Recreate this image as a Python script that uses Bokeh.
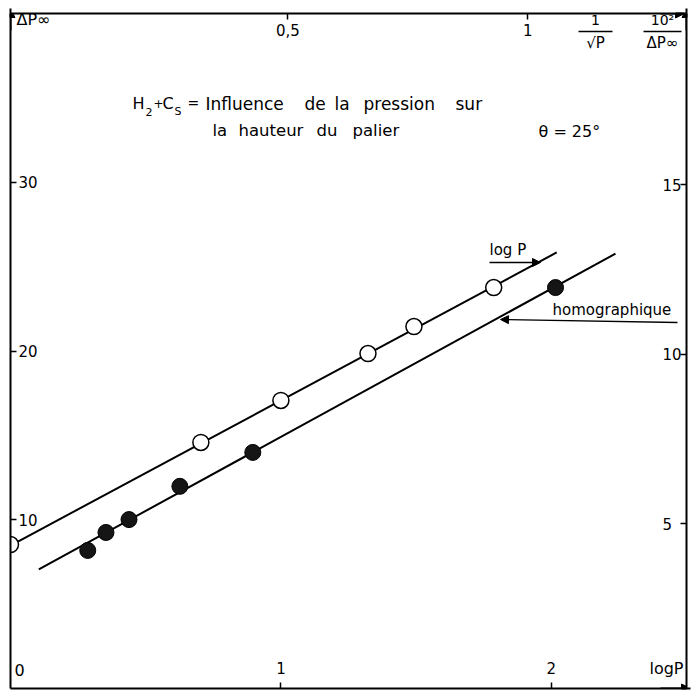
from bokeh.plotting import figure
from bokeh.models import LinearAxis, Range1d, FixedTicker, Label, Arrow, NormalHead
from bokeh.embed import file_html
from bokeh.resources import INLINE

# ---------------- data ----------------
# open circles : Delta P_inf versus log P
logp_open = [0.0, 0.704, 1.0, 1.322, 1.492, 1.787]
dp_open = [8.53, 14.58, 17.07, 19.85, 21.45, 23.76]
logp_line = [0.0, 2.02]
dp_line = [8.47, 25.84]

# filled circles : 10^2 / Delta P_inf versus 1 / sqrt(P)  (homographique)
invsqrtp_filled = [0.083, 0.121, 0.169, 0.275, 0.427, 1.058]
inv_dp_filled = [4.22, 4.75, 5.13, 6.11, 7.11, 11.97]
invsqrtp_line = [-0.019, 1.183]
inv_dp_line = [3.66, 12.97]

left_ticks = [10, 20, 30]
bottom_ticks = [1, 2]
top_ticks = [0.5, 1.0]
top_tick_labels = {0.5: "0,5", 1.0: "1"}
right_ticks = [5, 10, 15]

X_RANGE = (0.0, 2.5)
Y_RANGE = (0.0, 40.0)
TOP_RANGE = (-0.078, 1.331)
RIGHT_RANGE = (0.15, 20.05)

# ---------------- layout helpers (page pixels -> data) ----------------
FL, FR, FT, FB = 10, 686, 13, 688
FONT = "DejaVu Sans"


def dx(px):
    return X_RANGE[0] + (px - FL) / (FR - FL) * (X_RANGE[1] - X_RANGE[0])


def dy(py):
    return Y_RANGE[0] + (FB - py) / (FB - FT) * (Y_RANGE[1] - Y_RANGE[0])


p = figure(width=698, height=693,
           x_range=Range1d(*X_RANGE), y_range=Range1d(*Y_RANGE),
           x_axis_type=None, y_axis_type=None,
           output_backend="svg", toolbar_location=None,
           min_border_left=FL, min_border_right=698 - FR,
           min_border_top=FT, min_border_bottom=693 - FB,
           outline_line_color=None,
           background_fill_color="white", border_fill_color="white")
p.extra_x_ranges = {"top": Range1d(*TOP_RANGE)}
p.extra_y_ranges = {"right": Range1d(*RIGHT_RANGE)}


def style(ax, ticks, standoff):
    ax.ticker = FixedTicker(ticks=ticks)
    ax.major_tick_in = 6
    ax.major_tick_out = 0
    ax.minor_tick_in = 0
    ax.minor_tick_out = 0
    ax.axis_line_width = 2
    ax.axis_line_color = "black"
    ax.major_tick_line_width = 1.5
    ax.major_tick_line_color = "black"
    ax.major_label_text_font = FONT
    ax.major_label_text_font_size = "15px"
    ax.major_label_text_color = "black"
    ax.major_label_standoff = standoff


bottom = LinearAxis()
style(bottom, bottom_ticks, -27)
p.add_layout(bottom, "below")

left = LinearAxis()
style(left, left_ticks, -27)
p.add_layout(left, "left")

top = LinearAxis(x_range_name="top")
style(top, top_ticks, -22)
top.major_label_overrides = top_tick_labels
p.add_layout(top, "above")

right = LinearAxis(y_range_name="right")
style(right, right_ticks, -24)
p.add_layout(right, "right")

# ---------------- data glyphs ----------------
p.line(logp_line, dp_line, line_width=2, line_color="black")
p.scatter(logp_open, dp_open, size=16, fill_color="white",
          line_color="black", line_width=1.5)

p.line(invsqrtp_line, inv_dp_line, x_range_name="top", y_range_name="right",
       line_width=2, line_color="black")
p.scatter(invsqrtp_filled, inv_dp_filled, x_range_name="top", y_range_name="right",
          size=16, fill_color="#151515", line_color="black", line_width=1)

# ---------------- texts ----------------


def lab(px, py, text, size="16px", align="left", baseline="middle"):
    p.add_layout(Label(x=dx(px), y=dy(py), text=text, text_align=align,
                       text_baseline=baseline, text_font=FONT,
                       text_font_size=size, text_color="black"))


lab(16, 19, "ΔP∞")
lab(14, 669, "0")
lab(686 - 3, 668, "logP", align="right")

# 1/sqrt(P) label
lab(595, 19, "1", size="14px", align="center")
lab(595, 42, "√P", size="15px", align="center")
# 10^2 / DeltaP label
lab(662, 19, "10²", size="14px", align="center")
lab(662, 42, "ΔP∞", size="15px", align="center")
p.segment(x0=[dx(578), dx(643)], y0=[dy(31), dy(31)],
          x1=[dx(612), dx(681)], y1=[dy(31), dy(31)],
          line_color="black", line_width=1.3)

# title, line 1
lab(132, 103, "H", size="16px")
lab(145, 111, "2", size="11px")
lab(153, 103, "+", size="12px")
lab(162, 103, "C", size="16px")
lab(174, 111, "S", size="11px")
lab(187, 102, "=", size="14px")
for wx, word in [(205, "Influence"), (304, "de"), (334, "la"),
                 (363, "pression"), (455, "sur")]:
    lab(wx, 103, word, size="17px")
# title, line 2
for wx, word in [(212, "la"), (238, "hauteur"), (316, "du"), (352, "palier")]:
    lab(wx, 130, word, size="16.5px")
lab(538, 131, "θ = 25°", size="16px")

# annotations
lab(489, 249, "log P", size="15px")
p.add_layout(Arrow(end=NormalHead(size=8, fill_color="black", line_color="black"),
                   x_start=dx(489), y_start=dy(262), x_end=dx(540), y_end=dy(262),
                   line_width=1.3, line_color="black"))
lab(552, 309, "homographique", size="15px")
p.add_layout(Arrow(end=NormalHead(size=8, fill_color="black", line_color="black"),
                   x_start=dx(677), y_start=dy(322), x_end=dx(500), y_end=dy(319),
                   line_width=1.3, line_color="black"))

# axis arrowheads
ax_head = dict(size=9, fill_color="black", line_color="black")
p.add_layout(Arrow(end=NormalHead(**ax_head), x_start=dx(10), y_start=dy(30),
                   x_end=dx(10), y_end=dy(8), line_width=2, line_color="black"))
p.add_layout(Arrow(end=NormalHead(**ax_head), x_start=dx(686), y_start=dy(30),
                   x_end=dx(686), y_end=dy(8), line_width=2, line_color="black"))
p.add_layout(Arrow(end=NormalHead(**ax_head), x_start=dx(660), y_start=dy(13),
                   x_end=dx(684), y_end=dy(13), line_width=2, line_color="black"))
p.add_layout(Arrow(end=NormalHead(**ax_head), x_start=dx(660), y_start=dy(688),
                   x_end=dx(690), y_end=dy(688), line_width=2, line_color="black"))

open("out.html", "w").write(file_html(p, INLINE))
